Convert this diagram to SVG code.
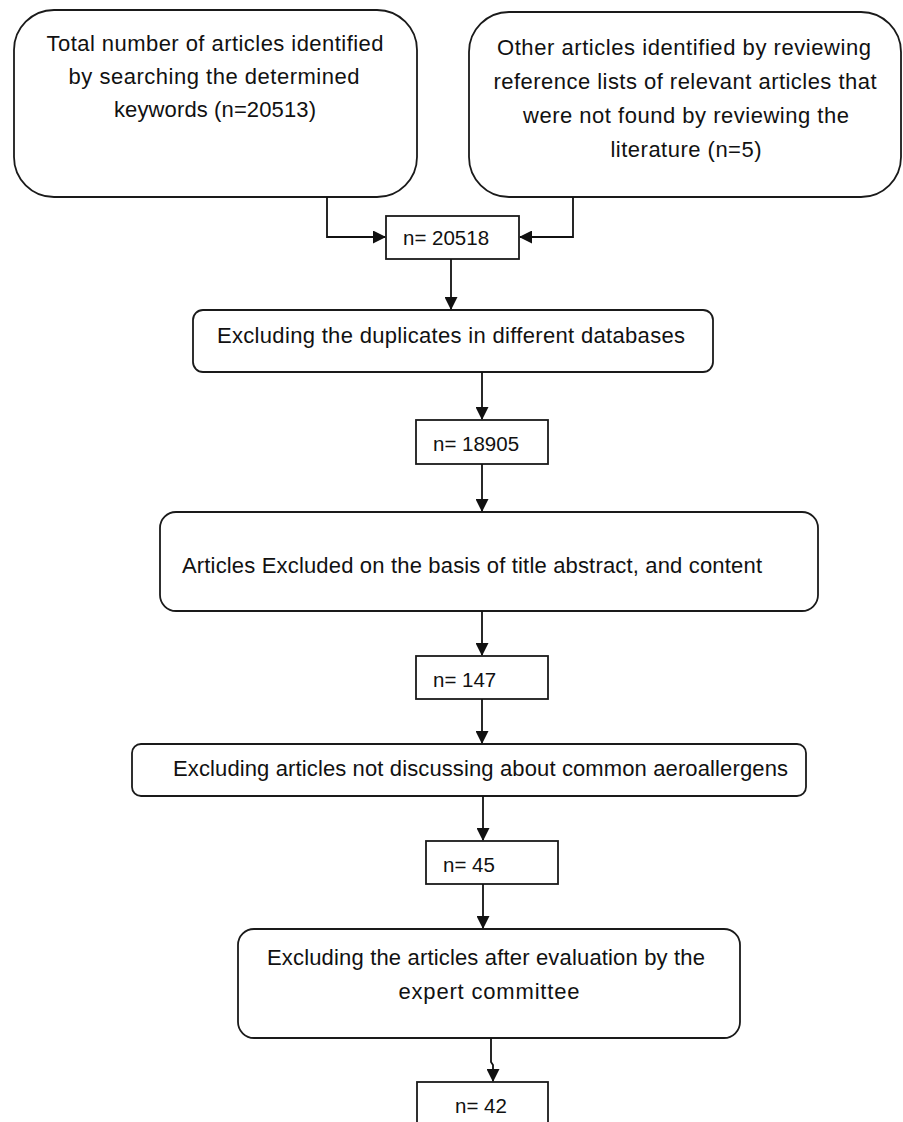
<svg xmlns="http://www.w3.org/2000/svg" width="903" height="1122" viewBox="0 0 903 1122">
<style>
.box{fill:#fff;stroke:#1a1a1a;stroke-width:1.8}
.t{font-family:"Liberation Sans",Arial,sans-serif;font-size:22px;fill:#111}
.n{font-family:"Liberation Sans",Arial,sans-serif;font-size:20.5px;fill:#111}
.c{text-anchor:middle}
.ln{fill:none;stroke:#111;stroke-width:1.8}
</style>
<defs>
<marker id="ah" markerWidth="13" markerHeight="13" refX="12" refY="6.5" orient="auto" markerUnits="userSpaceOnUse">
<path d="M0,0 L13,6.5 L0,13 Z" fill="#111"/>
</marker>
</defs>
<rect width="903" height="1122" fill="#fff"/>
<g id="n1">
<rect class="box" x="14" y="10" width="403" height="187" rx="40" ry="40"/>
<text class="t c" x="215" y="51" textLength="337">Total number of articles identified</text>
<text class="t c" x="214" y="84" textLength="291">by searching the determined</text>
<text class="t c" x="215" y="117" textLength="202">keywords (n=20513)</text>
</g>
<g id="n2">
<rect class="box" x="469" y="12" width="432" height="185" rx="40" ry="40"/>
<text class="t c" x="684" y="55" textLength="374">Other articles identified by reviewing</text>
<text class="t c" x="685" y="89" textLength="383">reference lists of relevant articles that</text>
<text class="t c" x="686" y="123" textLength="326">were not found by reviewing the</text>
<text class="t c" x="686" y="157" textLength="151">literature (n=5)</text>
</g>
<g id="n3">
<rect class="box" x="386" y="216" width="133" height="43"/>
<text class="n" x="403" y="245">n= 20518</text>
</g>
<g id="n4">
<rect class="box" x="193" y="310" width="520" height="62" rx="10" ry="10"/>
<text class="t c" x="451" y="343" textLength="468">Excluding the duplicates in different databases</text>
</g>
<g id="n5">
<rect class="box" x="416" y="420" width="132" height="44"/>
<text class="n" x="433" y="451">n= 18905</text>
</g>
<g id="n6">
<rect class="box" x="160" y="512" width="658" height="99" rx="16" ry="16"/>
<text class="t" x="182" y="573" textLength="580">Articles Excluded on the basis of title abstract, and content</text>
</g>
<g id="n7">
<rect class="box" x="416" y="656" width="132" height="43"/>
<text class="n" x="433" y="687">n= 147</text>
</g>
<g id="n8">
<rect class="box" x="132" y="744" width="674" height="52" rx="9" ry="9"/>
<text class="t" x="173" y="776" textLength="615">Excluding articles not discussing about common aeroallergens</text>
</g>
<g id="n9">
<rect class="box" x="426" y="841" width="132" height="43"/>
<text class="n" x="443" y="872">n= 45</text>
</g>
<g id="n10">
<rect class="box" x="238" y="929" width="502" height="109" rx="16" ry="16"/>
<text class="t c" x="486" y="965" textLength="438">Excluding the articles after evaluation by the</text>
<text class="t c" x="489" y="999" textLength="181">expert committee</text>
</g>
<g id="n11">
<rect class="box" x="417" y="1082" width="131" height="50"/>
<text class="n" x="455" y="1113">n= 42</text>
</g>
<g id="connectors">
<path class="ln" d="M327,197 V237 H385" marker-end="url(#ah)"/>
<path class="ln" d="M573,197 V237 H520" marker-end="url(#ah)"/>
<path class="ln" d="M451,259 V309" marker-end="url(#ah)"/>
<path class="ln" d="M482,372 V419" marker-end="url(#ah)"/>
<path class="ln" d="M482,464 V511" marker-end="url(#ah)"/>
<path class="ln" d="M482,611 V655" marker-end="url(#ah)"/>
<path class="ln" d="M482,699 V743" marker-end="url(#ah)"/>
<path class="ln" d="M483,796 V840" marker-end="url(#ah)"/>
<path class="ln" d="M483,884 V928" marker-end="url(#ah)"/>
<path class="ln" d="M491,1038 V1062 L493,1065 V1081" marker-end="url(#ah)"/>
</g>
</svg>
